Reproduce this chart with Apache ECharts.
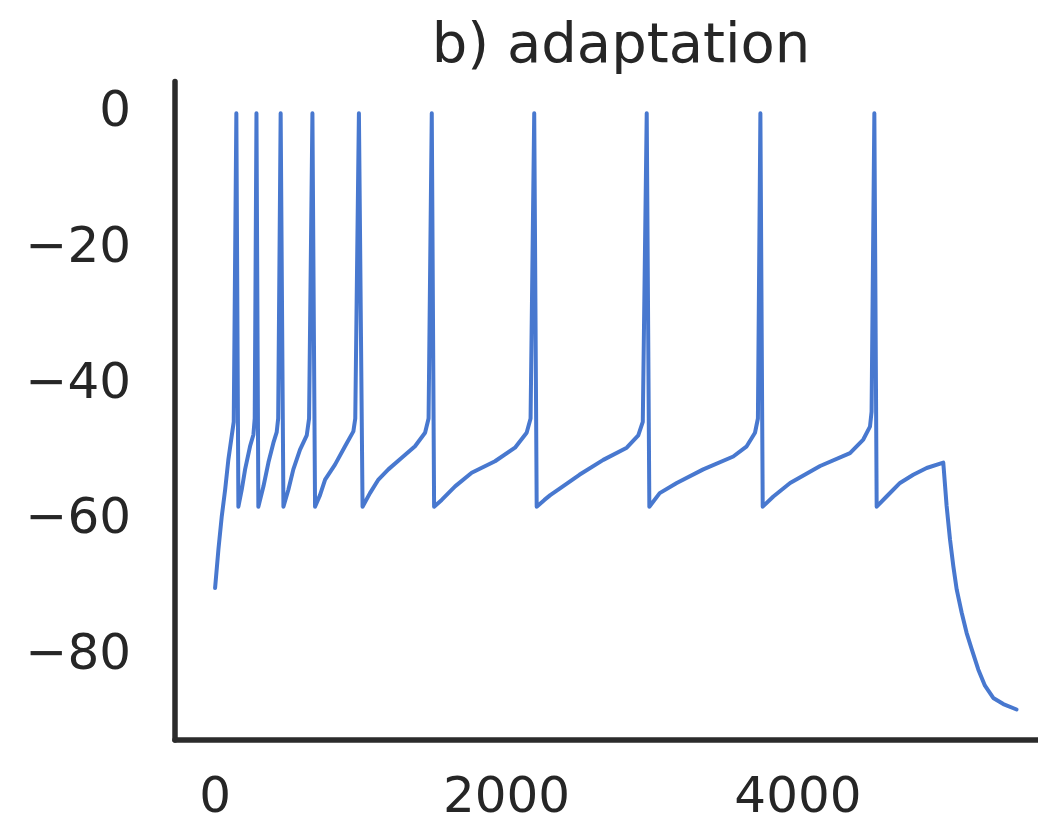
<!DOCTYPE html>
<html>
<head>
<meta charset="utf-8">
<script src="https://cdn.jsdelivr.net/npm/echarts@6/dist/echarts.min.js"></script>
<style>
  html, body { margin: 0; padding: 0; background: #ffffff; }
  #chart { width: 1038px; height: 824px; }
</style>
</head>
<body>
<div id="chart"></div>
<script>
// time points (x) and membrane potential (y)
const timeValues = [
  0, 23, 46, 69, 91, 114, 128, 146, 160,
  183, 206, 240, 263, 272, 284, 297,
  332, 366, 400, 423, 433, 450, 469,
  503, 537, 583, 629, 645, 668, 686,
  720, 755, 823, 892, 949, 962, 987, 1012,
  1063, 1121, 1189, 1281, 1372, 1441, 1465, 1487, 1503,
  1555, 1647, 1761, 1921, 2058, 2138, 2165, 2190, 2207,
  2260, 2300, 2367, 2500, 2664, 2825, 2904, 2935, 2962, 2980,
  3051, 3168, 3350, 3556, 3648, 3705, 3725, 3742, 3758,
  3831, 3946, 4152, 4357, 4448, 4494, 4505, 4524, 4540,
  4608, 4700, 4791, 4883, 4997,
  5020, 5043, 5066, 5089, 5123, 5157, 5192, 5237, 5283, 5340, 5409, 5500
];
const voltageValues = [
  -70, -64.3, -59.4, -55.5, -51.1, -47.6, -45.5, 0, -58,
  -55.5, -52.5, -49.1, -47.4, -45, 0, -58,
  -55, -51.5, -48.6, -47, -45, 0, -58,
  -55.5, -52.5, -49.6, -47.5, -45, 0, -58,
  -56.3, -54, -51.8, -49.1, -46.9, -45, 0, -58,
  -56, -54, -52.5, -50.8, -49.1, -47.1, -45, 0, -58,
  -57, -55, -53, -51.3, -49.3, -47.1, -45, 0, -58,
  -57, -56.3, -55.3, -53.3, -51.1, -49.3, -47.5, -45.5, 0, -58,
  -56, -54.5, -52.5, -50.6, -49.1, -47.1, -45, 0, -58,
  -56.5, -54.5, -52, -50.1, -48.1, -46.2, -44, 0, -58,
  -56.5, -54.5, -53.3, -52.3, -51.5,
  -57.9, -62.8, -66.8, -70.2, -73.6, -76.6, -79.0, -82.0, -84.4, -86.2, -87.1, -87.9
];
const xTicks = [0, 2000, 4000];
const yTicks = [0, -20, -40, -60, -80];
const titleText = 'b) adaptation';

const seriesData = timeValues.map((t, i) => [t, voltageValues[i]]);
const fmt = v => String(v).replace('-', '\u2212');

const chart = echarts.init(document.getElementById('chart'), null, { renderer: 'canvas' });
chart.setOption({
  animation: false,
  backgroundColor: '#ffffff',
  title: {
    text: titleText,
    left: 616,
    top: 14,
    textAlign: 'center',
    textStyle: {
      fontFamily: 'DejaVu Sans',
      fontSize: 56,
      fontWeight: 'normal',
      color: '#262626'
    }
  },
  grid: { left: 175, right: 0, top: 81.4, bottom: 83.3, containLabel: false },
  xAxis: {
    type: 'value',
    min: -275,
    max: 5647,
    axisLine: { show: true, onZero: false, lineStyle: { color: '#2b2b2b', width: 5.5 } },
    axisTick: { show: false },
    splitLine: { show: false },
    axisLabel: {
      customValues: xTicks,
      formatter: fmt,
      margin: 34,
      fontFamily: 'DejaVu Sans',
      fontSize: 50,
      color: '#262626'
    }
  },
  yAxis: {
    type: 'value',
    min: -92.4,
    max: 4.7,
    axisLine: { show: true, onZero: false, lineStyle: { color: '#2b2b2b', width: 5.5 } },
    axisTick: { show: false },
    splitLine: { show: false },
    axisLabel: {
      customValues: yTicks,
      formatter: fmt,
      margin: 44,
      fontFamily: 'DejaVu Sans',
      fontSize: 50,
      color: '#262626'
    }
  },
  series: [{
    type: 'line',
    data: seriesData,
    showSymbol: false,
    clip: false,
    lineStyle: { color: '#4878cf', width: 4, join: 'round', cap: 'round' }
  }]
});
</script>
</body>
</html>
